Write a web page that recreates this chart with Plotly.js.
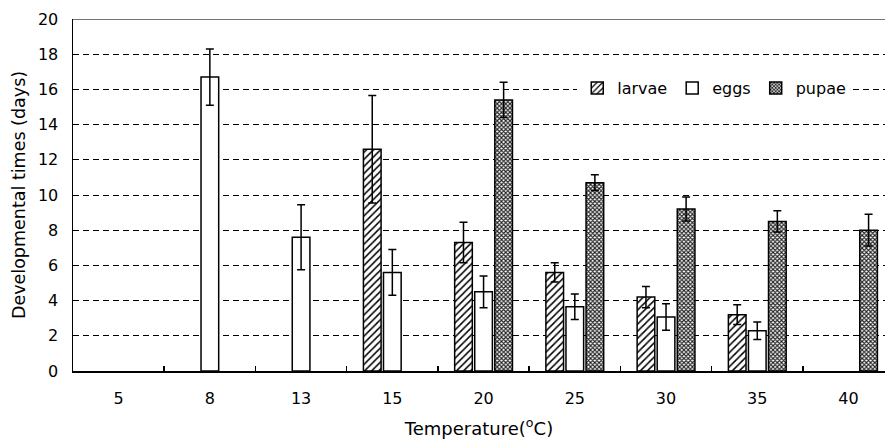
<!DOCTYPE html>
<html>
<head>
<meta charset="utf-8">
<script src="https://cdn.plot.ly/plotly-3.0.1.min.js"></script>
<style>html,body{margin:0;padding:0;background:#fff;}#chart{width:885px;height:439px;}</style>
</head>
<body>
<div id="chart"></div>
<script>
var temperatures = ["5", "8", "13", "15", "20", "25", "30", "35", "40"];
var larvae      = [null, null, null, 12.6, 7.3, 5.6, 4.2, 3.2, null];
var larvaeErr   = [null, null, null, 3.05, 1.15, 0.55, 0.6, 0.56, null];
var eggs        = [null, 16.7, 7.6, 5.6, 4.5, 3.65, 3.07, 2.29, null];
var eggsErr     = [null, 1.6, 1.85, 1.3, 0.9, 0.73, 0.75, 0.5, null];
var pupae       = [null, null, null, null, 15.4, 10.7, 9.2, 8.5, 8.0];
var pupaeErr    = [null, null, null, null, 1.0, 0.45, 0.68, 0.6, 0.9];
var yTicks      = [0, 2, 4, 6, 8, 10, 12, 14, 16, 18, 20];

var FONT = "DejaVu Sans, Liberation Sans, Arial, sans-serif";

function errBar(arr) {
  return {type: "data", array: arr, visible: true, color: "#000", thickness: 1.5, width: 4};
}

var traces = [
  {
    type: "bar", name: "larvae", x: temperatures, y: larvae,
    error_y: errBar(larvaeErr),
    marker: {color: "#fff", line: {color: "#000", width: 1.5},
             pattern: {shape: "/", size: 5, solidity: 0.3, fgcolor: "#000", bgcolor: "#fff"}}
  },
  {
    type: "bar", name: "eggs", x: temperatures, y: eggs,
    error_y: errBar(eggsErr),
    marker: {color: "#fff", line: {color: "#000", width: 1.5}}
  },
  {
    type: "bar", name: "pupae", x: temperatures, y: pupae,
    error_y: errBar(pupaeErr),
    marker: {color: "#fff", line: {color: "#000", width: 1.5},
             pattern: {shape: "x", size: 3, solidity: 0.6, fgcolor: "#222", bgcolor: "#fff"}}
  }
];

var layout = {
  width: 885, height: 439,
  margin: {l: 73, r: 0, t: 19, b: 68},
  paper_bgcolor: "#fff", plot_bgcolor: "#fff",
  font: {family: FONT, size: 16, color: "#000"},
  barmode: "group", bargap: 0.34, bargroupgap: 0.12,
  showlegend: true,
  legend: {orientation: "h", x: 0.621, xanchor: "left", y: 0.804, yanchor: "middle",
           bgcolor: "#fff", font: {family: FONT, size: 16, color: "#000"},
           traceorder: "normal", itemwidth: 30},
  xaxis: {
    type: "category", range: [-0.5, 8.4],
    showline: true, linecolor: "#000", linewidth: 1.5,
    showgrid: false, zeroline: false,
    ticks: "inside", tickson: "boundaries", ticklen: 5, tickwidth: 1.5, tickcolor: "#000",
    ticklabelstandoff: 12,
    tickfont: {family: FONT, size: 16, color: "#000"},
    title: {text: "Temperature(<sup>o</sup>C)", font: {family: FONT, size: 18, color: "#000"}, standoff: 16}
  },
  yaxis: {
    range: [0, 20], tickvals: yTicks,
    showline: true, linecolor: "#000", linewidth: 1.5,
    showgrid: true, gridcolor: "#000", gridwidth: 1, griddash: "6px,4px",
    zeroline: false, ticks: "", ticklabelstandoff: 10,
    tickfont: {family: FONT, size: 16, color: "#000"},
    title: {text: "Developmental times (days)", font: {family: FONT, size: 17.5, color: "#000"}, standoff: 8}
  },
  shapes: [
    {type: "line", xref: "paper", yref: "y", x0: 0, x1: 1, y0: 20, y1: 20,
     line: {color: "#444", width: 1.5}}
  ]
};

Plotly.newPlot("chart", traces, layout, {displayModeBar: false, staticPlot: true});
</script>
</body>
</html>
